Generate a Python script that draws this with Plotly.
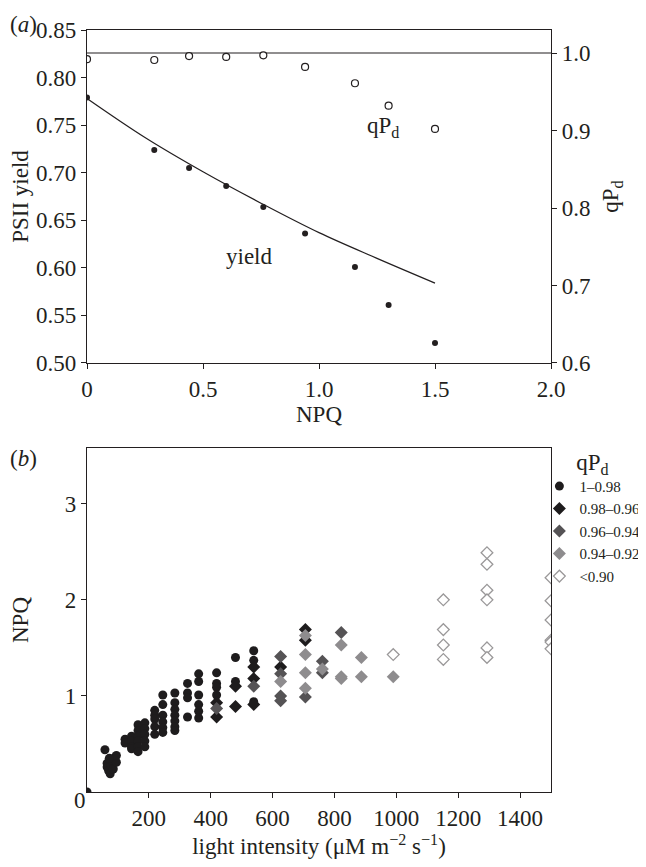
import plotly.graph_objects as go

# ---------------- Panel (a) data ----------------
npq_a = [0, 0.29, 0.44, 0.60, 0.76, 0.94, 1.155, 1.30, 1.50]
psii_yield = [0.779, 0.724, 0.705, 0.686, 0.664, 0.636, 0.601, 0.561, 0.521]
qpd_a = [0.992, 0.991, 0.996, 0.995, 0.997, 0.982, 0.961, 0.932, 0.902]
fit_npq = [0, 0.25, 0.5, 0.75, 1.0, 1.25, 1.5]
fit_yield = [0.778, 0.737, 0.701, 0.668, 0.637, 0.610, 0.584]
ref_npq = [0, 2.0]
ref_qpd = [1.0, 1.0]

# ---------------- Panel (b) data ----------------
# 1-0.98 (black circles)
g1_x = [0, 58, 65, 65, 70, 75, 78, 82, 85, 90, 95, 95, 72,
        123, 123, 144, 144, 144, 144,
        165, 165, 165, 165, 165, 165,
        187, 187, 187, 187, 187,
        219, 219, 219, 219, 219,
        245, 245, 245, 245, 245, 245,
        284, 284, 284, 284, 284, 284, 284,
        325, 325, 325, 325,
        361, 361, 361, 361, 361, 361,
        419, 419, 419, 419,
        480, 480, 539, 539, 539]
g1_y = [0, 0.44, 0.30, 0.26, 0.22, 0.19, 0.28, 0.33, 0.24, 0.36, 0.31, 0.38, 0.35,
        0.55, 0.51, 0.58, 0.53, 0.47, 0.45,
        0.70, 0.64, 0.58, 0.53, 0.47, 0.42,
        0.72, 0.66, 0.60, 0.53, 0.47,
        0.85, 0.80, 0.76, 0.68, 0.60,
        1.01, 0.91, 0.80, 0.73, 0.67, 0.62,
        1.03, 0.93, 0.86, 0.80, 0.74, 0.68, 0.64,
        1.13, 1.03, 0.98, 0.78,
        1.23, 1.15, 1.01, 0.91, 0.84, 0.77,
        1.24, 1.13, 1.09, 1.01,
        1.40, 1.15, 1.47, 1.37, 0.94]
# 0.98-0.96 (black diamonds)
g2_x = [419, 419, 480, 480, 539, 539, 539, 626, 706, 706]
g2_y = [0.93, 0.78, 1.10, 0.89, 1.30, 1.18, 0.91, 1.30, 1.69, 1.58]
# 0.96-0.94 (dark grey diamonds)
g3_x = [419, 539, 626, 626, 626, 626, 706, 761, 761, 822]
g3_y = [0.87, 1.10, 1.41, 1.23, 1.00, 0.95, 0.99, 1.36, 1.24, 1.66]
# 0.94-0.92 (grey diamonds)
g4_x = [626, 706, 706, 706, 706, 761, 822, 822, 822, 887, 887, 990]
g4_y = [1.15, 1.63, 1.43, 1.24, 1.08, 1.28, 1.53, 1.20, 1.18, 1.40, 1.20, 1.20]
# <0.90 (open diamonds)
g5_x = [990, 1152, 1152, 1152, 1152, 1293, 1293, 1293, 1293, 1293, 1293,
        1500, 1500, 1500, 1500, 1500, 1500]
g5_y = [1.43, 2.00, 1.69, 1.53, 1.38, 2.49, 2.37, 2.10, 2.00, 1.50, 1.40,
        2.23, 1.99, 1.79, 1.58, 1.56, 1.49]

x_ticks_b = [200, 400, 600, 800, 1000, 1200, 1400]

INK = "#231f20"
FONT = "Liberation Serif"
TS = 23

fig = go.Figure()

# Panel (a)
fig.add_trace(go.Scatter(x=ref_npq, y=ref_qpd, mode="lines", line=dict(color=INK, width=1.2),
                         xaxis="x", yaxis="y2", showlegend=False, hoverinfo="skip"))
fig.add_trace(go.Scatter(x=fit_npq, y=fit_yield, mode="lines", line=dict(color=INK, width=1.2, shape="spline"),
                         xaxis="x", yaxis="y", showlegend=False))
fig.add_trace(go.Scatter(x=npq_a, y=psii_yield, mode="markers",
                         marker=dict(color=INK, size=6, symbol="circle"),
                         xaxis="x", yaxis="y", showlegend=False))
fig.add_trace(go.Scatter(x=npq_a, y=qpd_a, mode="markers",
                         marker=dict(color="white", size=7, symbol="circle", line=dict(color=INK, width=1.2)),
                         xaxis="x", yaxis="y2", showlegend=False))

# Panel (b)
groups = [
    ("1–0.98", g1_x, g1_y, dict(color="#1e1c1d", size=9, symbol="circle")),
    ("0.98–0.96", g2_x, g2_y, dict(color="#1e1c1d", size=10, symbol="diamond")),
    ("0.96–0.94", g3_x, g3_y, dict(color="#555355", size=10, symbol="diamond")),
    ("0.94–0.92", g4_x, g4_y, dict(color="#8e8c8e", size=10, symbol="diamond")),
    ("<0.90", g5_x, g5_y, dict(color="white", size=9, symbol="diamond",
                               line=dict(color="#9a9899", width=1.3))),
]
for name, xs, ys, mk in groups:
    fig.add_trace(go.Scatter(x=xs, y=ys, mode="markers", name=name, marker=mk,
                             xaxis="x2", yaxis="y3", showlegend=True))

axis_common = dict(showline=True, linecolor=INK, linewidth=1.2, ticks="outside", ticklen=5,
                   tickcolor=INK, tickwidth=1.2, showgrid=False, zeroline=False, automargin=False,
                   tickfont=dict(family=FONT, size=TS, color=INK))

def ttl(text, standoff):
    return dict(text=text, font=dict(family=FONT, size=TS, color=INK), standoff=standoff)

# the page body adds an 8 px offset, so margins are reduced on the top/left by 8 px
fig.update_layout(
    width=646, height=867,
    margin=dict(l=79, r=103, t=22, b=83, autoexpand=False),
    paper_bgcolor="white", plot_bgcolor="white",
    font=dict(family=FONT, color=INK, size=TS),
    xaxis=dict(domain=[0, 1], anchor="y", range=[0, 2.0], tickvals=[0, 0.5, 1.0, 1.5, 2.0],
               ticktext=["0", "0.5", "1.0", "1.5", "2.0"], mirror=True,
               title=ttl("NPQ", 2), **axis_common),
    yaxis=dict(domain=[0.563, 1.0], anchor="x", range=[0.5, 0.85],
               tickvals=[0.5, 0.55, 0.6, 0.65, 0.7, 0.75, 0.8, 0.85], tickformat=".2f",
               title=ttl("PSII yield", 8), **axis_common),
    yaxis2=dict(overlaying="y", side="right", anchor="x", range=[0.6, 1.0297],
                tickvals=[0.6, 0.7, 0.8, 0.9, 1.0], tickformat=".1f",
                title=ttl("qP<sub>d</sub>", 12), **axis_common),
    xaxis2=dict(domain=[0, 1], anchor="y3", range=[0, 1500], tickvals=x_ticks_b, mirror=True,
                title=ttl("light intensity (μM m<sup>−2</sup> s<sup>−1</sup>)", 6), **axis_common),
    yaxis3=dict(domain=[0, 0.4514], anchor="x2", range=[0, 3.58], tickvals=[1, 2, 3], mirror=True,
                title=ttl("NPQ", 42), **axis_common),
    yaxis4=dict(overlaying="y3", side="right", anchor="x2", range=[0, 3.58], tickvals=[1, 2, 3],
                showticklabels=False, showline=False, ticks="inside", ticklen=6, tickcolor=INK,
                tickwidth=1.2, showgrid=False, zeroline=False, automargin=False),
    legend=dict(x=0.975, xanchor="left", y=0.462, yanchor="top", bgcolor="rgba(0,0,0,0)",
                font=dict(family=FONT, size=15, color=INK), itemwidth=30, tracegroupgap=0,
                title=dict(text="qP<sub>d</sub>", font=dict(family=FONT, size=TS, color=INK),
                           side="top center")),
    annotations=[
        dict(text="(<i>a</i>)", xref="paper", yref="paper", x=-0.17, y=1.026, xanchor="left",
             yanchor="top", showarrow=False, font=dict(family=FONT, size=TS, color=INK)),
        dict(text="(<i>b</i>)", xref="paper", yref="paper", x=-0.17, y=0.438, xanchor="left",
             yanchor="middle", showarrow=False, font=dict(family=FONT, size=TS, color=INK)),
        dict(text="qP<sub>d</sub>", xref="x", yref="y", x=1.276, y=0.748, showarrow=False,
             font=dict(family=FONT, size=TS, color=INK)),
        dict(text="yield", xref="x", yref="y", x=0.70, y=0.612, showarrow=False,
             font=dict(family=FONT, size=TS, color=INK)),
        dict(text="0", xref="paper", yref="paper", x=-0.033, y=-0.03, showarrow=False,
             font=dict(family=FONT, size=TS, color=INK)),
    ],
)

fig.write_html("out.html")
